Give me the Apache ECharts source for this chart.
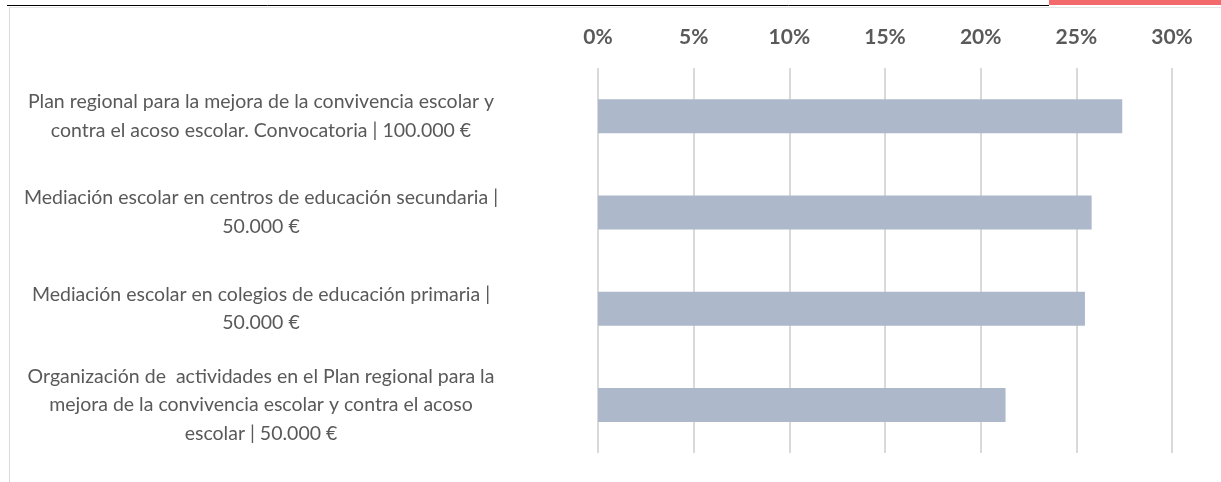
<!DOCTYPE html>
<html>
<head>
<meta charset="utf-8">
<script src="https://cdn.jsdelivr.net/npm/echarts@6/dist/echarts.min.js"></script>
<style>
  html, body { margin: 0; padding: 0; background: #fff; }
  #chart { width: 1221px; height: 482px; }
</style>
</head>
<body>
<div id="chart"></div>
<script>
// categories (top to bottom)
const categories = [
  'Plan regional para la mejora de la convivencia escolar y\ncontra el acoso escolar. Convocatoria | 100.000 €',
  'Mediación escolar en centros de educación secundaria |\n50.000 €',
  'Mediación escolar en colegios de educación primaria |\n50.000 €',
  'Organización de  actividades en el Plan regional para la\nmejora de la convivencia escolar y contra el acoso\nescolar | 50.000 €'
]
// share in percent
const values = [27.4, 25.8, 25.45, 21.3]
const tickMax = 30
const tickStep = 5

let chart = echarts.init(document.getElementById('chart'))
let option = {
  animation: false,
  textStyle: { fontFamily: 'Lato' },
  graphic: [
    // bits of the page around the chart
    { type: 'rect', shape: { x: 1049, y: 0, width: 172, height: 5 }, style: { fill: '#f36a6c' } },
    { type: 'line', shape: { x1: 7, y1: 5.5, x2: 1049, y2: 5.5 }, style: { stroke: '#000', lineWidth: 1 } },
    { type: 'line', shape: { x1: 9.5, y1: 7, x2: 9.5, y2: 482 }, style: { stroke: '#d9d9d9', lineWidth: 1 } },
    { type: 'line', shape: { x1: 9.5, y1: 7.5, x2: 1221, y2: 7.5 }, style: { stroke: '#e6e6e6', lineWidth: 1 } }
  ],
  grid: {
    left: 598,
    right: 49,
    top: 68,
    bottom: 29,
    containLabel: false
  },
  xAxis: {
    type: 'value',
    position: 'top',
    min: 0,
    max: tickMax,
    interval: tickStep,
    axisLine: { show: false },
    axisTick: { show: false },
    axisLabel: {
      formatter: '{value}%',
      color: '#595959',
      fontSize: 21,
      fontWeight: 'bold',
      fontFamily: 'Lato',
      margin: 20
    },
    splitLine: { lineStyle: { color: '#d9d9d9', width: 2 } }
  },
  yAxis: {
    type: 'category',
    inverse: true,
    data: categories,
    axisLine: { show: false },
    axisTick: { show: false },
    axisLabel: {
      align: 'center',
      margin: 337,
      color: '#595959',
      fontSize: 19.5,
      lineHeight: 28.5,
      fontFamily: 'Lato'
    }
  },
  series: [
    {
      type: 'bar',
      data: values,
      barWidth: 34,
      itemStyle: { color: '#adb9ca' }
    }
  ]
}
chart.setOption(option)
</script>
</body>
</html>
